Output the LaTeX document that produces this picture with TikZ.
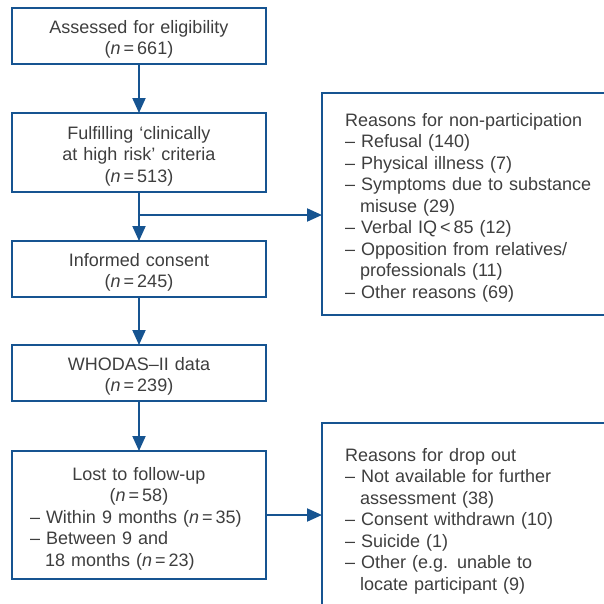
\documentclass[tikz,border=0pt]{standalone}
\usepackage{fontspec}
\setmainfont{Liberation Sans}
\usetikzlibrary{arrows.meta}
\definecolor{flowblue}{RGB}{22,84,145}
\definecolor{flowtext}{RGB}{62,62,62}
\newcommand\hang{\hspace*{15pt}}
\newcommand\textlift{\par\vspace{-7pt}}

\begin{document}
\begin{tikzpicture}[x=1pt, y=-1pt,
    box/.style={draw=flowblue, line width=2pt, outer sep=0pt, text=flowtext,
      font=\fontsize{18}{21.5}\selectfont, align=center,
      text width=230pt, inner xsep=12pt, minimum height=56pt,
      execute at end node=\textlift},
    sidebox/.style={box, anchor=north west, align=left,
      text width=280pt, inner xsep=23pt},
    flow/.style={draw=flowblue, line width=2pt, -{Triangle[width=13pt,length=15pt]}}]
  \useasboundingbox (0,0) rectangle (604,603);

  % main column
  \node[box] (elig) at (139,36) {Assessed for eligibility\\(\textit{n}\,=\,661)};
  \node[box, minimum height=79pt] (risk) at (139,152.5) {Fulfilling ‘clinically\\at high risk’ criteria\\(\textit{n}\,=\,513)};
  \node[box] (consent) at (139,269) {Informed consent\\(\textit{n}\,=\,245)};
  \node[box] (whodas) at (139,373) {WHODAS–II data\\(\textit{n}\,=\,239)};
  \node[box, align=left, text width=218pt, inner xsep=18pt, minimum height=128pt] (lost) at (139,515)
    {{\centering Lost to follow-up\\(\textit{n}\,=\,58)\par}
     – Within 9 months (\textit{n}\,=\,35)\\
     – Between 9 and\\
     \hang 18 months (\textit{n}\,=\,23)};

  % side boxes
  \node[sidebox, minimum height=222pt] (nonpart) at (322,93)
    {Reasons for non-participation\\
     – Refusal (140)\\
     – Physical illness (7)\\
     – Symptoms due to substance\\
     \hang misuse (29)\\
     – Verbal IQ\,<\,85 (12)\\
     – Opposition from relatives/\\
     \hang professionals (11)\\
     – Other reasons (69)};
  \node[sidebox, minimum height=189pt] (dropout) at (322,423)
    {Reasons for drop out\\
     – Not available for further\\
     \hang assessment (38)\\
     – Consent withdrawn (10)\\
     – Suicide (1)\\
     – Other (e.g. unable to\\
     \hang locate participant (9)};

  % connectors
  \coordinate (split) at (139,215);
  \draw[flow] (elig) -- (risk);
  \draw[flow] (risk) -- (consent);
  \draw[flow] (split) -- (split -| nonpart.west);
  \draw[flow] (consent) -- (whodas);
  \draw[flow] (whodas) -- (lost);
  \draw[flow] (lost.east) -- (lost.east -| dropout.west);
\end{tikzpicture}
\end{document}
